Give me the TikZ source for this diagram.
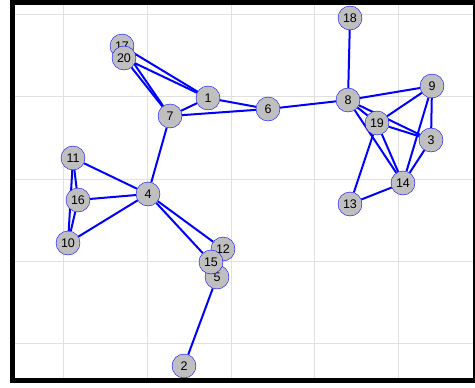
\documentclass[tikz,border=0pt]{standalone}
\usepackage{fontspec}
\setmainfont{Liberation Sans}
\usetikzlibrary{backgrounds}

\begin{document}
\begin{tikzpicture}[x=1pt, y=-1pt]
	\tikzstyle{main}=[circle, minimum size = 24pt, inner sep = 0pt, fill = lightgray, draw = blue, font = \fontsize{12.5}{14}\selectfont]
\tikzstyle{connect}=[blue, line width = 2pt]
\tikzstyle{gridline}=[black!12, line width = 1pt]
\useasboundingbox (0,0) rectangle (475,388);
\node[main] (v1) at (208,98) {1};
\node[main] (v2) at (184,366) {2};
\node[main] (v3) at (431,140) {3};
\node[main] (v4) at (148,194) {4};
\node[main] (v5) at (217,277) {5};
\node[main] (v6) at (268,109) {6};
\node[main] (v7) at (170,116) {7};
\node[main] (v8) at (348,100) {8};
\node[main] (v9) at (432,86) {9};
\node[main] (v10) at (68,243) {10};
\node[main] (v11) at (73,158) {11};
\node[main] (v12) at (223,249) {12};
\node[main] (v13) at (350,204) {13};
\node[main] (v14) at (403,183) {14};
\node[main] (v15) at (211,262) {15};
\node[main] (v16) at (78,200) {16};
\node[main] (v17) at (122,46) {17};
\node[main] (v18) at (350,18) {18};
\node[main] (v19) at (377,123) {19};
\node[main] (v20) at (124,58) {20};
\begin{scope}[on background layer]
\foreach \x in {63,147,231,314,398} \draw[gridline] (\x,5) -- (\x,378);
\foreach \y in {14,96,179,261,343} \draw[gridline] (15,\y) -- (473,\y);
\path (v17) edge [connect] (v1)
      (v17) edge [connect] (v7)
      (v20) edge [connect] (v1)
      (v20) edge [connect] (v7)
      (v1) edge [connect] (v7)
      (v1) edge [connect] (v6)
      (v7) edge [connect] (v6)
      (v7) edge [connect] (v4)
      (v6) edge [connect] (v8)
      (v8) edge [connect] (v18)
      (v8) edge [connect] (v9)
      (v8) edge [connect] (v19)
      (v8) edge [connect] (v3)
      (v8) edge [connect] (v14)
      (v9) edge [connect] (v19)
      (v9) edge [connect] (v3)
      (v9) edge [connect] (v14)
      (v19) edge [connect] (v3)
      (v19) edge [connect] (v14)
      (v19) edge [connect] (v13)
      (v3) edge [connect] (v14)
      (v13) edge [connect] (v14)
      (v4) edge [connect] (v11)
      (v4) edge [connect] (v16)
      (v4) edge [connect] (v10)
      (v11) edge [connect] (v16)
      (v11) edge [connect] (v10)
      (v16) edge [connect] (v10)
      (v4) edge [connect] (v12)
      (v4) edge [connect] (v15)
      (v5) edge [connect] (v2);
\end{scope}
% frame
\begin{scope}
\clip (0,0) rectangle (475,388);
\draw[line width = 5pt] (12.5,2.5) rectangle (475.5,380.5);
\end{scope}
\end{tikzpicture}
\end{document}
